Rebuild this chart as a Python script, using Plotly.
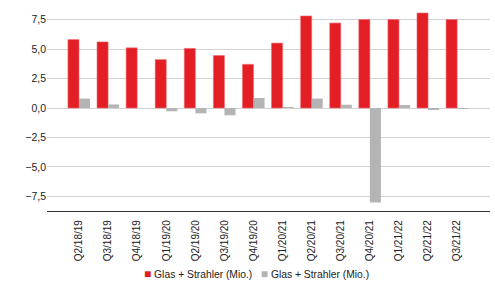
import plotly.graph_objects as go

categories = ["Q2/18/19", "Q3/18/19", "Q4/18/19", "Q1/19/20", "Q2/19/20", "Q3/19/20",
              "Q4/19/20", "Q1/20/21", "Q2/20/21", "Q3/20/21", "Q4/20/21", "Q1/21/22",
              "Q2/21/22", "Q3/21/22"]
red_values = [5.8, 5.6, 5.1, 4.1, 5.05, 4.45, 3.7, 5.5, 7.8, 7.2, 7.5, 7.5, 8.05, 7.5]
gray_values = [0.8, 0.3, 0.0, -0.28, -0.45, -0.62, 0.85, 0.02, 0.8, 0.28, -8.0, 0.25, -0.1, -0.05]
series_name = "Glas + Strahler (Mio.)"
red_color = "#E31E24"
gray_color = "#B4B4B4"

fig = go.Figure()
fig.add_trace(go.Bar(x=categories, y=red_values, name=series_name, showlegend=False,
                     marker=dict(color=red_color, line=dict(color="#F06A6E", width=0.6))))
fig.add_trace(go.Bar(x=categories, y=gray_values, name=series_name, showlegend=False,
                     marker=dict(color=gray_color, line=dict(width=0))))

legend_text = (f'<span style="color:{red_color};font-size:12px">■</span> {series_name}   '
               f'<span style="color:{gray_color};font-size:12px">■</span> {series_name}')
fig.add_annotation(text=legend_text, xref="paper", yref="paper",
                   x=0.472, y=-0.305, xanchor="center", yanchor="middle",
                   showarrow=False, font=dict(size=10.3, color="#222"))

fig.update_layout(
    width=495, height=282,
    margin=dict(l=47, r=5, t=5, b=71, autoexpand=False),
    paper_bgcolor="white", plot_bgcolor="white",
    barmode="group", bargap=0.24, bargroupgap=0,
    separators=",.",
    font=dict(family="Liberation Sans, Arial, sans-serif", size=10, color="#222"),
    showlegend=False,
)
fig.update_xaxes(type="category", range=[-1.1, 14.13], showgrid=False, automargin=False,
                 showline=True, linecolor="#333", linewidth=1.2,
                 tickangle=-90, ticks="inside", ticklen=2, tickwidth=1, tickcolor="white",
                 ticklabelstandoff=4, tickfont=dict(size=10))
fig.update_yaxes(range=[-8.73, 8.73], dtick=2.5, tick0=0, tickformat=".1f", automargin=False,
                 showgrid=True, gridcolor="#D3D3D3", gridwidth=1,
                 zeroline=True, zerolinecolor="#D3D3D3", zerolinewidth=1,
                 showline=False, ticks="", tickfont=dict(size=10.5))

fig.write_html("out.html", config={"displayModeBar": False},
               post_script="document.body.style.margin='0';")
